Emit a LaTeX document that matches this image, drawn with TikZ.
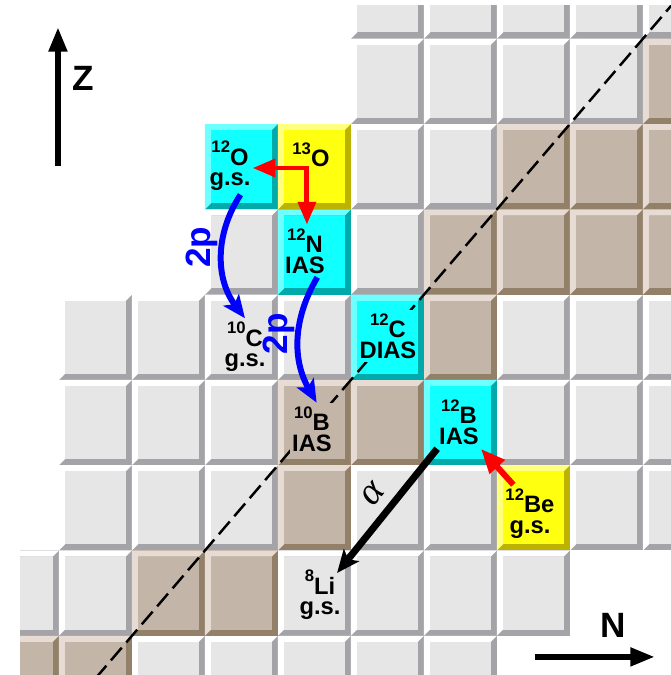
\documentclass[tikz,border=0pt]{standalone}
\usepackage{fontspec}
\setsansfont{Liberation Sans}
\newfontfamily\greekfont{Liberation Serif}
\usetikzlibrary{arrows.meta}

\definecolor{grayface}{HTML}{E6E6E6}
\definecolor{graylight}{HTML}{FFFFFF}
\definecolor{graydark}{HTML}{A4A3A7}
\definecolor{brownface}{HTML}{C4B5A9}
\definecolor{brownlight}{HTML}{E7DCD4}
\definecolor{browndark}{HTML}{928069}
\definecolor{cyanface}{HTML}{10FFFF}
\definecolor{cyanlight}{HTML}{70FFFF}
\definecolor{cyandark}{HTML}{00AAAA}
\definecolor{yellowface}{HTML}{FFFF10}
\definecolor{yellowlight}{HTML}{FFFF80}
\definecolor{yellowdark}{HTML}{BBB300}
\definecolor{decayred}{HTML}{FF0000}
\definecolor{decayblue}{HTML}{0000FF}

\newcommand{\bev}{0.125cm}
% bevelled square of the chart, lower left corner at (N,Z)
\newcommand{\nucbox}[3]{%
  \fill[#3dark] (#1,#2) rectangle (#1+1,#2+1);
  \fill[#3light] (#1,#2) -- (#1,#2+1) -- (#1+1,#2+1)
    -- ([shift={(-\bev,-\bev)}]#1+1,#2+1) -- ([shift={(\bev,-\bev)}]#1,#2+1)
    -- ([shift={(\bev,\bev)}]#1,#2) -- cycle;
  \fill[#3face] ([shift={(\bev,\bev)}]#1,#2) rectangle ([shift={(-\bev,-\bev)}]#1+1,#2+1);
}
\newcommand{\iso}[2]{\raisebox{7pt}{\fontsize{9.5}{9.5}\selectfont #1}#2}

\begin{document}
\begin{tikzpicture}[x=1.46cm, y=1.706cm,
  isolbl/.style={font=\sffamily\bfseries\fontsize{13.5}{11.8}\selectfont, align=center, inner xsep=1pt, inner ysep=2pt},
  axislbl/.style={font=\sffamily\bfseries\fontsize{20}{20}\selectfont, inner sep=0pt},
  twop/.style={font=\sffamily\bfseries\fontsize{20}{20}\selectfont, text=decayblue, inner sep=0.5pt},
  alphalbl/.style={font=\greekfont\itshape\fontsize{22}{22}\selectfont, inner sep=1pt},
  axis/.style={line width=3.4pt, -{Triangle[length=14pt,width=10pt]}},
  reddecay/.style={decayred, line width=2.8pt},
  bluedecay/.style={decayblue, line width=3.4pt, -{Stealth[length=13pt,width=11pt,inset=3pt]}},
  alphadecay/.style={line width=4pt, -{Stealth[length=13pt,width=11pt,inset=3pt]}},
  nzline/.style={line width=1.4pt, dash pattern=on 9.5pt off 4pt}]
  \useasboundingbox (1.192,2.540) rectangle (10.384,10.454);

  % chart squares
  \begin{scope}
    \clip (1.466,2.540) rectangle (10.384,10.395);
    \foreach \n/\z in {6/10,7/10,8/10,9/10,10/10, 6/9,7/9,8/9,9/9, 6/8,7/8, 4/7,6/7,
        2/6,3/6,4/6,5/6,8/6,9/6,10/6, 2/5,3/5,4/5,8/5,9/5,10/5,
        2/4,3/4,4/4,6/4,7/4,9/4,10/4, 1/3,2/3,5/3,6/3,7/3,8/3, 3/2,4/2,5/2,6/2,7/2}
      {\nucbox{\n}{\z}{gray}}
    \foreach \n/\z in {10/9, 8/8,9/8,10/8, 7/7,8/7,9/7,10/7, 7/6, 5/5,6/5, 5/4, 3/3,4/3, 1/2,2/2}
      {\nucbox{\n}{\z}{brown}}
    \foreach \n/\z in {4/8,5/7,6/6,7/5}
      {\nucbox{\n}{\z}{cyan}}
    \foreach \n/\z in {5/8,8/4}
      {\nucbox{\n}{\z}{yellow}}
    % N = Z
    \draw[nzline] (2.5,2.5) -- (10.5,10.5);
  \end{scope}

  % nuclei
  \node[isolbl] (o12) at (4.343,8.508) {\iso{12}{O}\\g.s.};
  \node[isolbl] (o13) at (5.452,8.643) {\iso{13}{O}};
  \node[isolbl] (n12) at (5.370,7.511) {\iso{12}{N}\\IAS};
  \node[isolbl] (c10) at (4.548,6.386) {\iso{10}{C}\\g.s.};
  \node[isolbl, fill=cyanface] (c12) at (6.507,6.509) {\iso{12}{C}\\DIAS};
  \node[isolbl, fill=brownface] (b10) at (5.466,5.425) {\iso{10}{B}\\IAS};
  \node[isolbl] (b12) at (7.480,5.501) {\iso{12}{B}\\IAS};
  \node[isolbl] (be12) at (8.452,4.434) {\iso{12}{Be}\\g.s.};
  \node[isolbl] (li8) at (5.576,3.479) {\iso{8}{Li}\\g.s.};

  % axes
  \coordinate (zfoot) at (1.986,8.508);
  \coordinate (ztip) at (1.986,10.137);
  \draw[axis] (zfoot) -- (ztip);
  \node[axislbl] (zlbl) at (2.329,9.540) {Z};
  \coordinate (nfoot) at (8.521,2.752);
  \coordinate (ntip) at (10.164,2.752);
  \draw[axis] (nfoot) -- (ntip);
  \node[axislbl] (nlbl) at (9.589,3.127) {N};

  % decays
  \coordinate (o13dec) at (5.397,8.484);
  \draw[reddecay, {Triangle[length=13pt,width=10pt]}-{Triangle[length=13pt,width=10pt]}]
    (o12.east |- o13dec) -- (o13dec) -- (o13dec |- n12.north);
  \draw[reddecay, line width=3.4pt, -{Triangle[length=14pt,width=11pt]}] (be12.120) -- (b12.south east);
  \draw[bluedecay] (o12.-70) to[bend right=35] node[twop, pos=0.42, anchor=south, rotate=90] {2p} (c10.north);
  \draw[bluedecay] (n12.-65) to[bend right=30] node[twop, pos=0.45, anchor=south, rotate=90] {2p} (b10.80);
  \draw[alphadecay, shorten >=-5pt] (b12.south west) -- node[alphalbl, midway, sloped, above=4pt] {α} (li8.north east);
\end{tikzpicture}
\end{document}
